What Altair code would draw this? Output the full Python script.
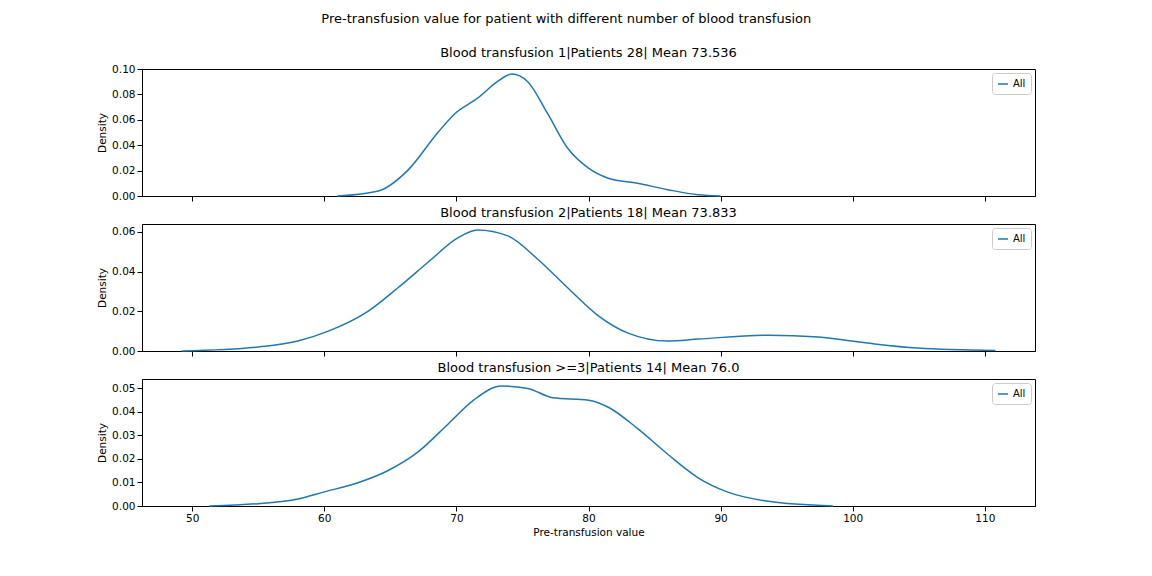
import altair as alt
import pandas as pd

x1 = [61.0,64.1,66.3,68.6,69.9,71.6,73.1,74.2,75.4,76.9,78.4,80.0,81.5,83.7,86.0,88.3,90.0]
y1 = [0.0,0.004,0.02,0.05,0.065,0.077,0.09,0.096,0.09,0.065,0.038,0.022,0.014,0.01,0.005,0.001,0.0]
x2 = [49.2,55.0,58.0,60.3,63.3,65.6,67.9,70.1,71.6,73.9,76.2,78.4,80.7,83.0,86.0,88.3,93.6,97.4,101.1,104.9,110.8]
y2 = [0.0,0.002,0.005,0.01,0.02,0.032,0.045,0.057,0.061,0.058,0.046,0.032,0.018,0.009,0.005,0.006,0.008,0.007,0.004,0.0015,0.0002]
x3 = [51.3,55.0,58.0,60.0,62.6,64.8,67.1,69.4,71.3,73.4,75.4,77.3,80.0,81.5,83.7,86.0,88.3,90.5,93.6,98.5]
y3 = [0.0,0.001,0.003,0.006,0.01,0.015,0.023,0.035,0.045,0.051,0.050,0.046,0.045,0.042,0.033,0.022,0.012,0.006,0.002,0.0]
titles = ["Blood transfusion 1|Patients 28| Mean 73.536",
          "Blood transfusion 2|Patients 18| Mean 73.833",
          "Blood transfusion >=3|Patients 14| Mean 76.0"]
ymax = [0.10, 0.064, 0.054]
ysteps = [0.02, 0.02, 0.01]

def panel(xs, ys, title, ym, step, last):
    df = pd.DataFrame({"x": xs, "y": ys, "s": "All"})
    xaxis = alt.Axis(title="Pre-transfusion value" if last else None, labels=last,
                     values=[50,60,70,80,90,100,110], grid=False)
    yvals = [round(i*step, 3) for i in range(int(ym/step+1e-9)+1)]
    return alt.Chart(df).mark_line(interpolate="monotone", strokeWidth=1.5).encode(
        x=alt.X("x:Q", scale=alt.Scale(domain=[46.2, 113.8], nice=False, zero=False), axis=xaxis),
        y=alt.Y("y:Q", scale=alt.Scale(domain=[0, ym], nice=False),
                axis=alt.Axis(title="Density", values=yvals, grid=False,
                              format=".2f")),
        color=alt.Color("s:N", scale=alt.Scale(range=["#1f77b4"]),
                        legend=alt.Legend(title=None, orient="top-right", symbolType="stroke",
                                          strokeColor="#cccccc", padding=5, fillColor="white",
                                          cornerRadius=3, offset=4)),
    ).properties(width=893, height=127, title=alt.TitleParams(title, fontSize=13, fontWeight="normal"))

chart = alt.vconcat(
    panel(x1, y1, titles[0], ymax[0], ysteps[0], False),
    panel(x2, y2, titles[1], ymax[1], ysteps[1], False),
    panel(x3, y3, titles[2], ymax[2], ysteps[2], True),
    spacing=4,
).resolve_scale(color="independent").properties(
    title=alt.TitleParams("Pre-transfusion value for patient with different number of blood transfusion",
                          fontSize=13, fontWeight="normal", anchor="middle", offset=21),
    padding={"left": 89, "top": 4, "right": 10, "bottom": 5},
).configure(font="DejaVu Sans").configure_view(stroke="black").configure_axis(
    labelFontSize=10.5, titleFontSize=10.5, titleFontWeight="normal", domainColor="black",
    tickColor="black", labelColor="black", titleColor="black")

chart.save("out.html", embed_options={"renderer": "svg", "actions": False})
